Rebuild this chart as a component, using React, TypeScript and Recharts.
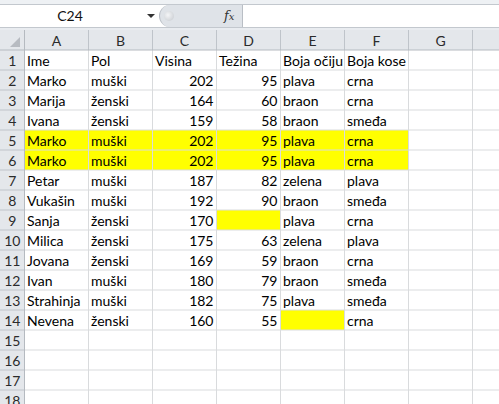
import React from 'react';
import {
    ScatterChart,
    Scatter,
    XAxis,
    YAxis,
    ReferenceArea,
    ReferenceLine
} from 'recharts';

// spreadsheet content
const columnLetters = ['A', 'B', 'C', 'D', 'E', 'F', 'G', ''];
const headerRow = ['Ime', 'Pol', 'Visina', 'Težina', 'Boja očiju', 'Boja kose'];
const names = ['Marko', 'Marija', 'Ivana', 'Marko', 'Marko', 'Petar', 'Vukašin', 'Sanja', 'Milica', 'Jovana', 'Ivan', 'Strahinja', 'Nevena'];
const genders = ['muški', 'ženski', 'ženski', 'muški', 'muški', 'muški', 'muški', 'ženski', 'ženski', 'ženski', 'muški', 'muški', 'ženski'];
const heights = [202, 164, 159, 202, 202, 187, 192, 170, 175, 169, 180, 182, 160];
const weights: (number | null)[] = [95, 60, 58, 95, 95, 82, 90, null, 63, 59, 79, 75, 55];
const eyeColors: (string | null)[] = ['plava', 'braon', 'braon', 'plava', 'plava', 'zelena', 'braon', 'plava', 'zelena', 'braon', 'braon', 'plava', null];
const hairColors = ['crna', 'crna', 'smeđa', 'crna', 'crna', 'plava', 'smeđa', 'crna', 'plava', 'crna', 'smeđa', 'smeđa', 'crna'];
const rowNumbers = Array.from({ length: 18 }, (_, i) => i + 1);

// highlighted cells: [col1, col2, row1, row2] in sheet units
const yellowBlocks = [
    [0, 6, 5, 7],
    [3, 4, 9, 10],
    [4, 5, 14, 15],
];

const COL_W = 64;
const ROW_H = 20;
const ROW_HEAD_W = 24.5;
const W = 499;
const H = 374;
const X_MIN = -ROW_HEAD_W / COL_W;
const X_MAX = (W - ROW_HEAD_W) / COL_W;
const Y_MAX = H / ROW_H;

const FONT = 'Lato, "Noto Sans", sans-serif';

type Cell = { x: number; y: number; text: string; align: 'start' | 'end' | 'middle'; kind: string };

const cells: Cell[] = [];
headerRow.forEach((t, c) => cells.push({ x: c + 0.5, y: 1.5, text: t, align: 'start', kind: 'cell' }));
names.forEach((_, i) => {
    const y = i + 2.5;
    cells.push({ x: 0.5, y, text: names[i], align: 'start', kind: 'cell' });
    cells.push({ x: 1.5, y, text: genders[i], align: 'start', kind: 'cell' });
    cells.push({ x: 2.5, y, text: String(heights[i]), align: 'end', kind: 'cell' });
    if (weights[i] !== null) cells.push({ x: 3.5, y, text: String(weights[i]), align: 'end', kind: 'cell' });
    if (eyeColors[i] !== null) cells.push({ x: 4.5, y, text: eyeColors[i] as string, align: 'start', kind: 'cell' });
    cells.push({ x: 5.5, y, text: hairColors[i], align: 'start', kind: 'cell' });
});

const colHeads: Cell[] = columnLetters.map((l, c) => ({ x: c + 0.5, y: 0.5, text: l, align: 'middle', kind: 'head' }));
const rowHeads: Cell[] = rowNumbers.map(r => ({ x: X_MIN / 2, y: r + 0.5, text: String(r), align: 'middle', kind: 'head' }));

const CellText = (props: any) => {
    const { cx, cy, payload } = props;
    const p = payload as Cell;
    let x = cx;
    if (p.align === 'start') x = cx - COL_W / 2 + 2.5;
    if (p.align === 'end') x = cx + COL_W / 2 - 3;
    return (
        <text
            x={x}
            y={cy + 5.5}
            textAnchor={p.align}
            fontFamily={FONT}
            fontSize={14}
            fill={p.kind === 'head' ? '#2b2b2b' : '#000'}
        >
            {p.text}
        </text>
    );
};

const FormulaBar = () => (
    <div style={{ position: 'absolute', left: 0, top: 0, width: W, height: 30, background: '#e9ecf0' }}>
        <div style={{ position: 'absolute', left: 0, top: 0, width: W, height: 4, background: '#eef1f4', borderBottom: '1px solid #c3c8ce' }} />
        <div style={{ position: 'absolute', left: 0, top: 5, width: W, height: 22, background: '#fff', borderBottom: '1px solid #c3c8ce' }} />
        <div style={{ position: 'absolute', left: 0, top: 5, width: 140, height: 22, lineHeight: '22px', textAlign: 'center', fontFamily: FONT, fontSize: 14, color: '#111' }}>C24</div>
        <svg style={{ position: 'absolute', left: 146, top: 12 }} width={10} height={8}>
            <polygon points="1,2 9,2 5,6" fill="#333" />
        </svg>
        <div style={{ position: 'absolute', left: 159, top: 5, width: 84, height: 22, background: '#dfe3e8', borderRadius: '11px 0 0 11px', borderLeft: '1px solid #b9bec5', borderRight: '1px solid #b9bec5', boxSizing: 'border-box' }} />
        <div style={{ position: 'absolute', left: 164, top: 11, width: 10, height: 10, borderRadius: 5, background: 'radial-gradient(circle at 40% 40%, #f4f5f7, #c4c8cd)' }} />
        <div style={{ position: 'absolute', left: 224, top: 5, height: 22, lineHeight: '22px', fontFamily: '"DejaVu Serif", serif', fontStyle: 'italic', fontSize: 13, color: '#333' }}>
            f<span style={{ fontSize: 10 }}>x</span>
        </div>
    </div>
);

const App: React.FC = () => {
    if (typeof document !== 'undefined') document.body.style.margin = '0';

    const vLines = columnLetters.map((_, i) => i + 1);
    const hLines = rowNumbers.map(r => r + 1);

    return (
        <div style={{ position: 'relative', width: W, height: 404, overflow: 'hidden', background: '#fff' }}>
            <FormulaBar />
            <div style={{ position: 'absolute', left: 0, top: 30 }}>
                <ScatterChart width={W} height={H} margin={{ top: 0, right: 0, bottom: 0, left: 0 }}>
                    <XAxis type="number" dataKey="x" domain={[X_MIN, X_MAX]} allowDataOverflow hide />
                    <YAxis type="number" dataKey="y" domain={[0, Y_MAX]} allowDataOverflow reversed hide />

                    {/* header backgrounds */}
                    <ReferenceArea x1={X_MIN} x2={X_MAX} y1={0} y2={1} fill="#e4e7eb" fillOpacity={1} stroke="none" ifOverflow="visible" />
                    <ReferenceArea x1={X_MIN} x2={0} y1={1} y2={Y_MAX} fill="#e4e7eb" fillOpacity={1} stroke="none" ifOverflow="visible" />

                    {/* body gridlines */}
                    {vLines.map(i => (
                        <ReferenceLine key={'v' + i} segment={[{ x: i, y: 1 }, { x: i, y: Y_MAX }]} stroke="#d9dbdd" ifOverflow="visible" />
                    ))}
                    {hLines.map(r => (
                        <ReferenceLine key={'h' + r} segment={[{ x: 0, y: r }, { x: X_MAX, y: r }]} stroke="#d9dbdd" ifOverflow="visible" />
                    ))}

                    {/* fills */}
                    {yellowBlocks.map(([x1, x2, y1, y2], i) => (
                        <ReferenceArea key={'y' + i} x1={x1} x2={x2} y1={y1} y2={y2} fill="#ffff00" fillOpacity={1} stroke="none" ifOverflow="visible" />
                    ))}

                    {/* header separators */}
                    {[0, ...vLines].map(i => (
                        <ReferenceLine key={'cv' + i} segment={[{ x: i, y: 0 }, { x: i, y: 1 }]} stroke="#bfc4ca" ifOverflow="visible" />
                    ))}
                    {hLines.map(r => (
                        <ReferenceLine key={'rh' + r} segment={[{ x: X_MIN, y: r }, { x: 0, y: r }]} stroke="#bfc4ca" ifOverflow="visible" />
                    ))}
                    <ReferenceLine segment={[{ x: X_MIN, y: 1 }, { x: X_MAX, y: 1 }]} stroke="#b5bac0" ifOverflow="visible" />
                    <ReferenceLine segment={[{ x: 0, y: 0 }, { x: 0, y: Y_MAX }]} stroke="#b5bac0" ifOverflow="visible" />

                    <Scatter data={colHeads} shape={<CellText />} isAnimationActive={false} />
                    <Scatter data={rowHeads} shape={<CellText />} isAnimationActive={false} />
                    <Scatter data={cells} shape={<CellText />} isAnimationActive={false} />
                </ScatterChart>
            </div>
            <svg style={{ position: 'absolute', left: 0, top: 30 }} width={25} height={20}>
                <polygon points="20,7 20,17 10,17" fill="#b7bbc1" />
            </svg>
        </div>
    );
};

export default App;
